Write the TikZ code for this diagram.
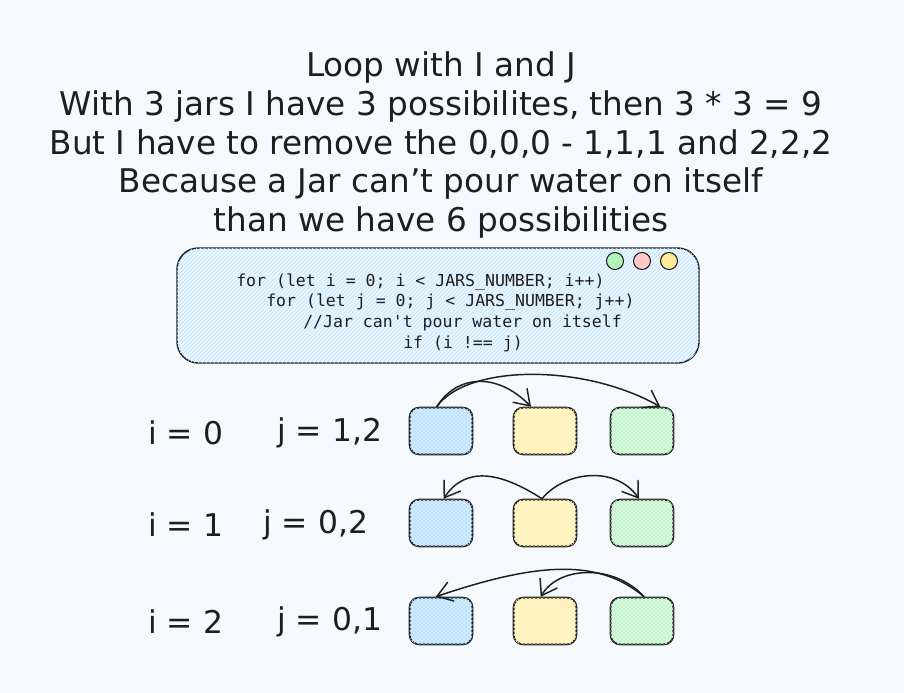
\documentclass[tikz,border=0pt]{standalone}
\usepackage{fontspec}
\setmainfont{DejaVu Sans}
\setmonofont{DejaVu Sans Mono}
\usetikzlibrary{arrows.meta,patterns}
\definecolor{ink}{HTML}{1E1E1E}
\definecolor{paper}{HTML}{F5F9FD}
\definecolor{jarblue}{HTML}{A5D8FF}
\definecolor{jaryellow}{HTML}{FFEC99}
\definecolor{jargreen}{HTML}{B2F2BB}
\definecolor{dotred}{HTML}{FFC9C9}

\begin{document}
\begin{tikzpicture}[x=0.75pt,y=-0.75pt,
	jar/.style={draw=ink,line width=1.4pt,rounded corners=7pt,minimum width=47pt,minimum height=35pt,inner sep=0pt,fill=#1!45!white,postaction={pattern=crosshatch,pattern color=#1!80!white}},
	pour/.style={draw=ink,line width=1.1pt,-{Straight Barb[length=11pt,width=15pt]}},
	loopvar/.style={font=\fontsize{23.5}{27}\selectfont,text=ink,anchor=west,inner sep=0pt},
	codeline/.style={font=\ttfamily\fontsize{12.4}{15}\selectfont,text=ink,anchor=west,inner sep=0pt},
	dot/.style={circle,draw=ink,line width=0.8pt,minimum size=12.75pt,inner sep=0pt,fill=#1}]
				\useasboundingbox (0,0) rectangle (904,693);
				\fill[paper] (0,0) rectangle (904,693);

				\node[text=ink,align=center,font=\fontsize{24.5}{29}\selectfont] (title) at (441,145)
					{Loop with I and J\\With 3 jars I have 3 possibilites, then 3 * 3 = 9\\But I have to remove the 0,0,0 - 1,1,1 and 2,2,2\\Because a Jar can't pour water on itself\\than we have 6 possibilities};

				% code window
				\draw[ink,line width=1.1pt,rounded corners=16pt,fill=jarblue!22!white,postaction={pattern=north east lines,pattern color=jarblue!75!white}] (177,248) rectangle (699,363);
				\node[dot=jargreen] (dotg) at (615,261) {};
				\node[dot=dotred] (dotr) at (642,261) {};
				\node[dot=jaryellow] (doty) at (669,261) {};
				\node[codeline] (code1) at (236,282) {for (let i = 0; i < JARS\_NUMBER; i++)};
				\node[codeline] (code2) at (266,302.5) {for (let j = 0; j < JARS\_NUMBER; j++)};
				\node[codeline] (code3) at (303,323) {//Jar can't pour water on itself};
				\node[codeline] (code4) at (403,343.5) {if (i !== j)};

				% jars
				\foreach \y/\r in {431/0,523/1,621/2}{
					\node[jar=jarblue] (b\r) at (441,\y) {};
					\node[jar=jaryellow] (y\r) at (545,\y) {};
					\node[jar=jargreen] (g\r) at (642,\y) {};
				}

				\node[loopvar] (i0) at (148,433) {i = 0};
				\node[loopvar] (j0) at (277,433) {j = 1,2};
				\node[loopvar] (i1) at (148,525) {i = 1};
				\node[loopvar] (j1) at (263,525) {j = 0,2};
				\node[loopvar] (i2) at (148,622) {i = 2};
				\node[loopvar] (j2) at (277,622) {j = 0,1};

				\draw[pour] (b0.100) .. controls +(20,-32) and +(-34,-35) .. (y0.120);
				\draw[pour] (b0.100) .. controls +(30,-42) and +(-78,-44) .. (g0.53);
				\draw[pour] (y1.97) .. controls +(-42,-27) and +(22,-33) .. (b1.84);
				\draw[pour] (y1.97) .. controls +(22,-27) and +(-24,-34) .. (g1.97);
				\draw[pour] (g2.85) .. controls +(-45,-38) and +(103,-35) .. (b2.102);
				\draw[pour] (g2.85) .. controls +(-30,-33) and +(18,-31) .. (y2.100);
\end{tikzpicture}
\end{document}
